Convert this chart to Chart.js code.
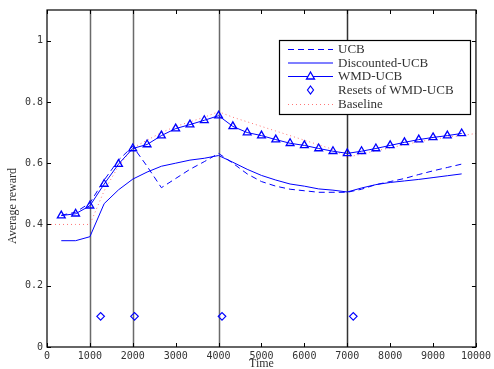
<!DOCTYPE html>
<html>
<head>
<meta charset="utf-8">
<script src="https://cdn.jsdelivr.net/npm/chart.js@4/dist/chart.umd.min.js"></script>
<style>
  html, body { margin: 0; padding: 0; background: #fff; }
  #wrap { width: 494px; height: 369px; }
</style>
</head>
<body>
<div id="wrap"><canvas id="lineChart"></canvas></div>
<script>
// sample times (x axis)
var times = [333, 667, 1000, 1333, 1667, 2000, 2333, 2667, 3000, 3333, 3667, 4000, 4333, 4667, 5000,
             5333, 5667, 6000, 6333, 6667, 7000, 7333, 7667, 8000, 8333, 8667, 9000, 9333, 9667];
var ucb = [0.43, 0.44, 0.47, 0.545, 0.61, 0.655, 0.59, 0.52, 0.55, 0.58, 0.605, 0.632, 0.60, 0.565, 0.54,
           0.525, 0.515, 0.51, 0.505, 0.505, 0.505, 0.515, 0.53, 0.54, 0.55, 0.563, 0.575, 0.586, 0.597];
var discountedUcb = [0.347, 0.347, 0.36, 0.468, 0.513, 0.548, 0.571, 0.59, 0.60, 0.61, 0.616, 0.625, 0.603, 0.58, 0.56,
                     0.545, 0.532, 0.525, 0.516, 0.512, 0.506, 0.519, 0.53, 0.537, 0.542, 0.547, 0.553, 0.559, 0.565];
var wmdUcb = [0.429, 0.435, 0.461, 0.532, 0.597, 0.648, 0.661, 0.69, 0.713, 0.726, 0.74, 0.755, 0.72, 0.70, 0.69,
              0.677, 0.665, 0.658, 0.648, 0.639, 0.632, 0.639, 0.648, 0.658, 0.668, 0.677, 0.684, 0.69, 0.697];
var baselineTimes = [0, 333, 667, 1000, 1333, 1667, 2000, 2333, 2667, 3000, 3333, 3667, 4000, 4333, 4667, 5000,
                     5333, 5667, 6000, 6333, 6667, 7000, 7333, 7667, 8000, 8333, 8667, 9000, 9333, 9667, 10000];
var baseline = [0.40, 0.40, 0.40, 0.40, 0.51, 0.59, 0.65, 0.675, 0.70, 0.72, 0.735, 0.75, 0.768, 0.75, 0.735, 0.72,
                0.705, 0.69, 0.675, 0.66, 0.645, 0.619, 0.63, 0.64, 0.65, 0.66, 0.67, 0.678, 0.685, 0.69, 0.697];
// detected resets of WMD-UCB
var resetTimes = [1250, 2040, 4080, 7140];
var resetValues = [0.1, 0.1, 0.1, 0.1];
// true change points
var changePoints = [1000, 2000, 4000, 7000];

var xTicks = [0, 1000, 2000, 3000, 4000, 5000, 6000, 7000, 8000, 9000, 10000];
var yTicks = [0, 0.2, 0.4, 0.6, 0.8, 1];

function pts(xs, ys) {
    return xs.map(function (x, i) { return {x: x, y: ys[i]}; });
}

var blue = '#0000ff';
var pink = 'rgba(255,60,60,0.7)';
var serif = '"Liberation Serif", "DejaVu Serif", serif';
var mono = '"DejaVu Sans Mono", "Liberation Mono", monospace';

var framePlugin = {
    id: 'frame',
    beforeDatasetsDraw: function (chart) {
        var c = chart.ctx, xs = chart.scales.x, a = chart.chartArea;
        c.save();
        changePoints.forEach(function (v, i) {
            var px = Math.round(xs.getPixelForValue(v)) + 0.5;
            c.strokeStyle = i == 3 ? '#333' : '#6a6a6a';
            c.lineWidth = 1.5;
            c.beginPath(); c.moveTo(px, a.top); c.lineTo(px, a.bottom); c.stroke();
        });
        c.restore();
    },
    afterDraw: function (chart) {
        var c = chart.ctx, xs = chart.scales.x, ys = chart.scales.y, a = chart.chartArea;
        c.save();
        c.strokeStyle = '#000';
        c.lineWidth = 1.2;
        c.strokeRect(a.left, a.top, a.right - a.left, a.bottom - a.top);
        c.lineWidth = 1;
        xTicks.forEach(function (v) {
            var px = Math.round(xs.getPixelForValue(v)) + 0.5;
            c.beginPath();
            c.moveTo(px, a.bottom); c.lineTo(px, a.bottom - 4);
            c.moveTo(px, a.top); c.lineTo(px, a.top + 4);
            c.stroke();
        });
        yTicks.forEach(function (v) {
            var py = Math.round(ys.getPixelForValue(v)) + 0.5;
            c.beginPath();
            c.moveTo(a.left, py); c.lineTo(a.left + 4, py);
            c.moveTo(a.right, py); c.lineTo(a.right - 4, py);
            c.stroke();
        });

        // axis titles
        c.fillStyle = '#333';
        c.font = '12px ' + serif;
        c.textAlign = 'center';
        c.textBaseline = 'middle';
        c.fillText('Time', (a.left + a.right) / 2, 364);
        c.save();
        c.translate(13, 206);
        c.rotate(-Math.PI / 2);
        c.fillText('Average reward', 0, 0);
        c.restore();

        // legend box
        var lx = 279.5, ly = 40.5, lw = 191, lh = 74;
        c.fillStyle = '#fff';
        c.fillRect(lx, ly, lw, lh);
        c.strokeStyle = '#000';
        c.lineWidth = 1.2;
        c.strokeRect(lx, ly, lw, lh);
        var rows = [49, 62.5, 76, 90, 104];
        var names = ['UCB', 'Discounted-UCB', 'WMD-UCB', 'Resets of WMD-UCB', 'Baseline'];
        var x0 = 288, x1 = 333;
        c.font = '13px ' + serif;
        c.textAlign = 'left';
        c.textBaseline = 'middle';
        rows.forEach(function (ry, i) {
            c.save();
            c.lineWidth = 1.1;
            c.strokeStyle = i == 4 ? pink : blue;
            if (i == 0) c.setLineDash([6, 4]);
            if (i == 4) c.setLineDash([1, 3]);
            if (i != 3) {
                c.beginPath(); c.moveTo(x0, ry + 0.5); c.lineTo(x1, ry + 0.5); c.stroke();
            }
            c.setLineDash([]);
            var mx = (x0 + x1) / 2;
            if (i == 2) {
                c.lineWidth = 1.3;
                c.beginPath();
                c.moveTo(mx, ry - 4); c.lineTo(mx + 4, ry + 3); c.lineTo(mx - 4, ry + 3); c.closePath();
                c.fillStyle = '#fff'; c.fill(); c.stroke();
            }
            if (i == 3) {
                c.lineWidth = 1.2;
                c.beginPath();
                c.moveTo(mx, ry - 4); c.lineTo(mx + 3, ry); c.lineTo(mx, ry + 4); c.lineTo(mx - 3, ry); c.closePath();
                c.stroke();
            }
            c.restore();
            c.fillStyle = '#333';
            c.fillText(names[i], 338, ry + 1);
        });
        c.restore();
    }
};

var lineData = {
    datasets: [
        {
            label: 'UCB',
            data: pts(times, ucb),
            borderColor: blue,
            borderWidth: 1,
            borderDash: [6, 4],
            pointRadius: 0
        },
        {
            label: 'Discounted-UCB',
            data: pts(times, discountedUcb),
            borderColor: blue,
            borderWidth: 1,
            pointRadius: 0
        },
        {
            label: 'WMD-UCB',
            data: pts(times, wmdUcb),
            borderColor: blue,
            borderWidth: 1,
            pointStyle: 'triangle',
            pointRadius: 4.5,
            pointBorderWidth: 1.3,
            pointBorderColor: blue,
            pointBackgroundColor: 'rgba(255,255,255,0)'
        },
        {
            label: 'Resets of WMD-UCB',
            data: pts(resetTimes, resetValues),
            showLine: false,
            borderColor: blue,
            pointStyle: 'rectRot',
            pointRadius: 3.8,
            pointBorderWidth: 1.2,
            pointBorderColor: blue,
            pointBackgroundColor: 'rgba(255,255,255,0)'
        },
        {
            label: 'Baseline',
            data: pts(baselineTimes, baseline),
            borderColor: pink,
            borderWidth: 1,
            borderDash: [1, 3],
            pointRadius: 0
        }
    ]
};

var lineOptions = {
    responsive: true,
    maintainAspectRatio: false,
    animation: false,
    events: [],
    layout: {padding: {top: 7, right: 17, left: 0, bottom: 0}},
    plugins: {legend: {display: false}, tooltip: {enabled: false}},
    scales: {
        x: {
            type: 'linear',
            min: 0, max: 10000,
            afterBuildTicks: function (s) { s.ticks = xTicks.map(function (v) { return {value: v}; }); },
            afterFit: function (s) { s.height = 22; },
            grid: {display: false, drawTicks: false},
            border: {display: false},
            ticks: {
                maxRotation: 0, padding: 3, color: '#333',
                font: {family: mono, size: 10},
                callback: function (v) { return String(v); }
            }
        },
        y: {
            min: 0, max: 1.1,
            afterBuildTicks: function (s) { s.ticks = yTicks.map(function (v) { return {value: v}; }); },
            afterFit: function (s) { s.width = 47; },
            grid: {display: false, drawTicks: false},
            border: {display: false},
            ticks: {
                padding: 4, color: '#333',
                font: {family: mono, size: 10},
                callback: function (v) { return String(Math.round(v * 10) / 10); }
            }
        }
    }
};

var ctx = document.getElementById('lineChart').getContext('2d');
new Chart(ctx, {type: 'line', data: lineData, options: lineOptions, plugins: [framePlugin]});
</script>
</body>
</html>
